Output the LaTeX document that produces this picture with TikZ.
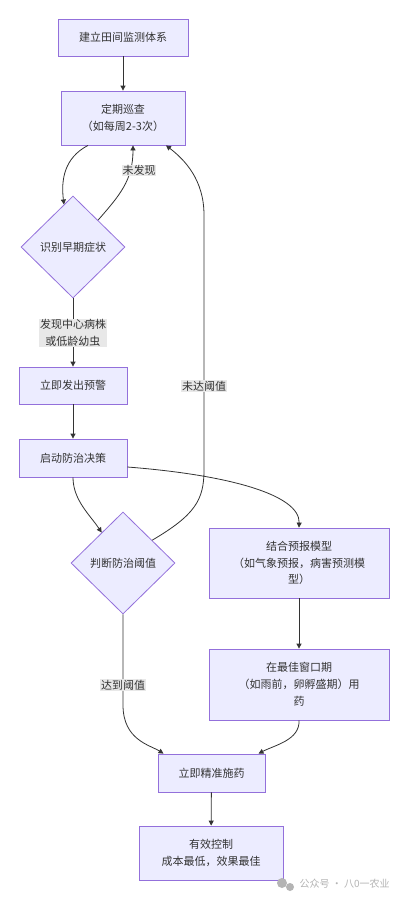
\documentclass[tikz,border=0pt]{standalone}
\usepackage{fontspec}
\setmainfont{Noto Sans CJK SC}
\usetikzlibrary{shapes.geometric,arrows.meta}
\definecolor{nfill}{HTML}{ECECFF}
\definecolor{nstroke}{HTML}{9370DB}
\definecolor{ln}{HTML}{333333}
\definecolor{lblbg}{HTML}{E8E8E8}
\definecolor{wmgray}{HTML}{B4B4B4}
\begin{document}
\begin{tikzpicture}[x=1pt,y=-1pt,
  font=\fontsize{11}{16.8}\selectfont, text=ln,
  box/.style={draw=nstroke, fill=nfill, line width=0.8pt, align=center, inner sep=0pt},
  dia/.style={diamond, draw=nstroke, fill=nfill, line width=0.8pt, inner sep=0pt,
              minimum width=104pt, minimum height=102pt, align=center},
  arr/.style={draw=ln, line width=0.8pt, -{Triangle[length=5pt,width=5pt]}},
  lbl/.style={fill=lblbg, inner sep=0.8pt, align=center, text=ln}]
\useasboundingbox[fill=white] (0,0) rectangle (408,900);

\node[box, minimum width=130pt, minimum height=37pt] (b1) at (123,37.5) {建立田间监测体系};
\node[box, minimum width=124pt, minimum height=54pt] (b2) at (123,118) {定期巡查\\（如每周2-3次）};
\node[dia] (d1) at (73,247) {识别早期症状};
\node[box, minimum width=108pt, minimum height=37pt] (b3) at (73,385.5) {立即发出预警};
\node[box, minimum width=108pt, minimum height=38pt] (b4) at (73,458) {启动防治决策};
\node[dia] (d2) at (123,563) {判断防治阈值};
\node[box, minimum width=180pt, minimum height=70pt] (b5) at (299,563) {结合预报模型\\（如气象预报，病害预测模\\型）};
\node[box, minimum width=180pt, minimum height=71pt] (b6) at (299,684.5) {在最佳窗口期\\（如雨前，卵孵盛期）用\\药};
\node[box, minimum width=107pt, minimum height=38pt] (b7) at (211.5,773) {立即精准施药};
\node[box, minimum width=144pt, minimum height=54pt] (b8) at (211,853) {有效控制\\成本最低，效果最佳};

% connectors
\draw[arr] (b1) -- (b2);
\draw[arr] ([xshift=-35pt]b2.south) .. controls (64,158) and (61,180) .. (d1.102);
\draw[arr] (d1.47) .. controls (120,195) and (133,180) .. ([xshift=10pt]b2.south);
\draw[arr] (d1.south) -- (b3.north);
\draw[arr] (b3) -- (b4);
\draw[arr] (b4.south) .. controls (73,500) and (90,515) .. (d2.125);
\draw[arr] ([yshift=-9pt]b4.east) .. controls (230,475) and (300,495) .. (b5.north);
\draw[arr] (d2.38) .. controls (195,515) and (204,500) .. (204,470) -- (204,215)
           .. controls (204,180) and (185,160) .. ([xshift=43pt]b2.south);
\draw[arr] (d2.south) -- (123,705) .. controls (123,740) and (150,745) .. ([xshift=-48pt]b7.north);
\draw[arr] (b5) -- (b6);
\draw[arr] (b6.south) .. controls (300,740) and (275,745) .. ([xshift=47pt]b7.north);
\draw[arr] (b7) -- (b8);

% edge labels
\node[lbl] (l1) at (139,170.5) {未发现};
\node[lbl] (l2) at (73,333) {发现中心病株\\或低龄幼虫};
\node[lbl] (l3) at (204,386) {未达阈值};
\node[lbl] (l4) at (123,685) {达到阈值};

% watermark
\fill[wmgray] (282,883) circle (5pt);
\fill[wmgray] (290,887) circle (4pt);
\node[text=wmgray, font=\fontsize{10}{12}\selectfont, anchor=west] (wm) at (296,884) {公众号 · 八0一农业};
\end{tikzpicture}
\end{document}
